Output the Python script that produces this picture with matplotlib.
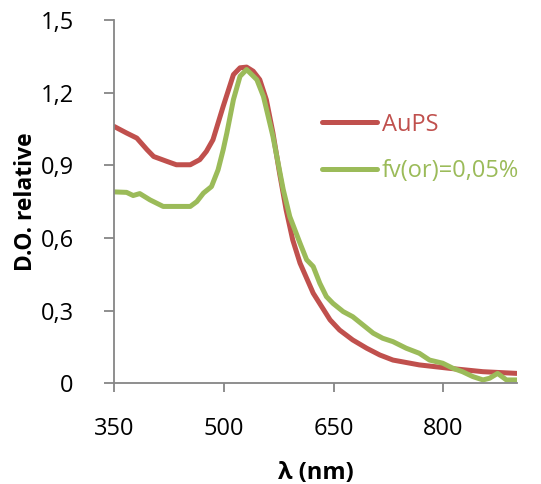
import matplotlib
matplotlib.use("Agg")
import matplotlib.pyplot as plt

# Data
aups_x = [350, 367, 381, 395, 404, 422, 435, 454, 467, 476, 485, 492, 499, 513, 522, 531,
          540, 549, 558, 567, 576, 585, 594, 604, 622, 645, 658, 676, 695, 713, 731, 767,
          808, 854, 900]
aups_y = [1.06, 1.033, 1.012, 0.964, 0.936, 0.916, 0.902, 0.902, 0.923, 0.957, 1.005, 1.074,
          1.143, 1.274, 1.302, 1.305, 1.288, 1.253, 1.17, 1.033, 0.868, 0.716, 0.592, 0.496,
          0.372, 0.262, 0.22, 0.179, 0.145, 0.117, 0.096, 0.076, 0.062, 0.048, 0.041]

fv_x = [350, 367, 376, 385, 399, 417, 454, 463, 472, 483, 492, 499, 504, 513, 522, 531,
        545, 554, 567, 581, 590, 604, 613, 622, 631, 640, 649, 663, 676, 690, 704, 717,
        731, 749, 767, 781, 799, 813, 826, 840, 854, 863, 874, 886, 900]
fv_y = [0.79, 0.788, 0.775, 0.783, 0.757, 0.73, 0.73, 0.75, 0.785, 0.812, 0.881, 0.964,
        1.033, 1.171, 1.267, 1.295, 1.253, 1.184, 1.019, 0.80, 0.688, 0.578, 0.51, 0.482,
        0.413, 0.358, 0.33, 0.296, 0.275, 0.241, 0.207, 0.186, 0.172, 0.145, 0.124, 0.096,
        0.083, 0.062, 0.048, 0.028, 0.014, 0.021, 0.041, 0.014, 0.014]

series_labels = ["AuPS", "fv(or)=0,05%"]
x_ticks = [350, 500, 650, 800]
y_ticks = [0, 0.3, 0.6, 0.9, 1.2, 1.5]
y_tick_labels = ["0", "0,3", "0,6", "0,9", "1,2", "1,5"]

red = "#C0504D"
green = "#9BBB59"
axis_gray = "#868686"

plt.rcParams["font.family"] = ["Open Sans", "DejaVu Sans"]

fig = plt.figure(figsize=(5.41, 4.84), dpi=100)
ax = fig.add_axes([0.211, 0.208, 0.744, 0.751])

ax.plot(aups_x, aups_y, color=red, lw=3.6, label=series_labels[0], solid_capstyle="round")
ax.plot(fv_x, fv_y, color=green, lw=3.6, label=series_labels[1], solid_capstyle="round")

ax.set_xlim(350, 900)
ax.set_ylim(0, 1.5)
ax.set_xticks(x_ticks)
ax.set_xticklabels([str(t) for t in x_ticks])
ax.set_yticks(y_ticks)
ax.set_yticklabels(y_tick_labels)

for s in ["top", "right"]:
    ax.spines[s].set_visible(False)
for s in ["left", "bottom"]:
    ax.spines[s].set_color(axis_gray)
    ax.spines[s].set_linewidth(1.3)

ax.tick_params(axis="both", colors=axis_gray, labelcolor="black", labelsize=17,
               width=1.3, direction="out")
ax.tick_params(axis="x", length=6.5, pad=18)
ax.tick_params(axis="y", length=7.2, pad=22)

ax.set_xlabel("λ (nm)", fontsize=17, fontweight="bold", labelpad=14)
ax.set_ylabel("D.O. relative", fontsize=16.5, fontweight="bold", labelpad=2)

leg = ax.legend(loc="upper left", bbox_to_anchor=(0.516, 0.745), frameon=False,
                fontsize=17, handlelength=2.35, handletextpad=0.2, labelspacing=0.95,
                labelcolor="linecolor", borderaxespad=0, borderpad=0)

fig.savefig("out.png", dpi=100)
